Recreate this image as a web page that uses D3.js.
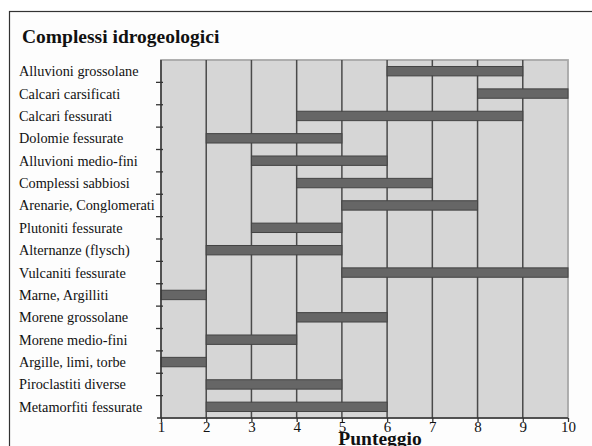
<!DOCTYPE html>
<html><head><meta charset="utf-8">
<script src="https://cdn.jsdelivr.net/npm/d3@7"></script>
<style>body{margin:0;background:#fff}svg{display:block}</style>
</head><body>
<script>
const categories = ["Alluvioni grossolane","Calcari carsificati","Calcari fessurati","Dolomie fessurate","Alluvioni medio-fini","Complessi sabbiosi","Arenarie, Conglomerati","Plutoniti fessurate","Alternanze (flysch)","Vulcaniti fessurate","Marne, Argilliti","Morene grossolane","Morene medio-fini","Argille, limi, torbe","Piroclastiti diverse","Metamorfiti fessurate"];
const minScore = [6,8,4,2,3,4,5,3,2,5,1,4,2,1,2,2];
const maxScore = [9,10,9,5,6,7,8,5,5,10,2,6,4,2,5,6];
const xTicks = [1,2,3,4,5,6,7,8,9,10];
const title = "Complessi idrogeologici";
const xTitle = "Punteggio";

(function () {
const W = 592, H = 446;
const svg = d3.select("body").append("svg").attr("width", W).attr("height", H);
const font = "'Liberation Serif', 'Times New Roman', serif";

// outer frame
svg.append("rect").attr("x", 9.5).attr("y", 11.5).attr("width", 600).attr("height", 460)
  .attr("fill", "#fdfdfd").attr("stroke", "#333").attr("stroke-width", 1.2);

const pL = 161, pR = 568, pT = 60, pB = 418;
const x = d3.scaleLinear().domain([1, 10]).range([pL, pR]);
const y = d3.scaleBand().domain(categories).range([pT, pB]).paddingInner(0.58).paddingOuter(0.29);
const yb = d3.scaleBand().domain(categories).range([pT, pB]);

// plot background
svg.append("rect").attr("x", pL).attr("y", pT).attr("width", pR - pL).attr("height", pB - pT)
  .attr("fill", "#d6d6d6").attr("stroke", "#a8a8a8").attr("stroke-width", 1.8);

// vertical grid lines
svg.append("g").selectAll("line").data(xTicks.slice(1, -1)).join("line")
  .attr("x1", d => x(d)).attr("x2", d => x(d)).attr("y1", pT).attr("y2", pB)
  .attr("stroke", "#4a4a4a").attr("stroke-width", 1.5);

// bars
svg.append("g").selectAll("rect").data(categories).join("rect")
  .attr("x", (d, i) => x(minScore[i]))
  .attr("width", (d, i) => x(maxScore[i]) - x(minScore[i]))
  .attr("y", d => y(d)).attr("height", y.bandwidth())
  .attr("fill", "#666").attr("stroke", "#444").attr("stroke-width", 1);

// y axis line and ticks at band boundaries
const yAxisG = svg.append("g");
yAxisG.append("line").attr("x1", pL).attr("x2", pL).attr("y1", pT).attr("y2", pB)
  .attr("stroke", "#333").attr("stroke-width", 1.5);
yAxisG.selectAll("line.t").data(categories.slice(1)).join("line").attr("class", "t")
  .attr("x1", pL - 5).attr("x2", pL + 2)
  .attr("y1", d => yb(d)).attr("y2", d => yb(d))
  .attr("stroke", "#333").attr("stroke-width", 1.3);

// category labels
svg.append("g").selectAll("text").data(categories).join("text")
  .attr("x", 19).attr("y", d => yb(d) + yb.bandwidth() / 2)
  .attr("dy", "0.35em")
  .attr("font-family", font).attr("font-size", 14.3).attr("fill", "#111")
  .text(d => d);

// x axis
const xAxis = d3.axisBottom(x).tickValues(xTicks).tickFormat(d3.format("d")).tickSize(4).tickSizeOuter(0);
const xg = svg.append("g").attr("transform", `translate(0,${pB})`).call(xAxis);
xg.select(".domain").attr("stroke", "#333").attr("stroke-width", 1.5).attr("d", `M${pL - 4},0H${pR}`);
xg.selectAll(".tick line").attr("stroke", "#333").attr("stroke-width", 1.3);
xg.selectAll(".tick text").attr("font-family", font).attr("font-size", 15).attr("fill", "#111").attr("dy", null).attr("y", 14);

// title
svg.append("text").attr("x", 22).attr("y", 43).attr("font-family", font).attr("font-weight", "bold")
  .attr("font-size", 19.5).attr("fill", "#111").text(title);

// x title
svg.append("text").attr("x", 380).attr("y", 445).attr("text-anchor", "middle")
  .attr("font-family", font).attr("font-weight", "bold").attr("font-size", 19.5).attr("fill", "#111").text(xTitle);
})();
</script>
</body></html>
